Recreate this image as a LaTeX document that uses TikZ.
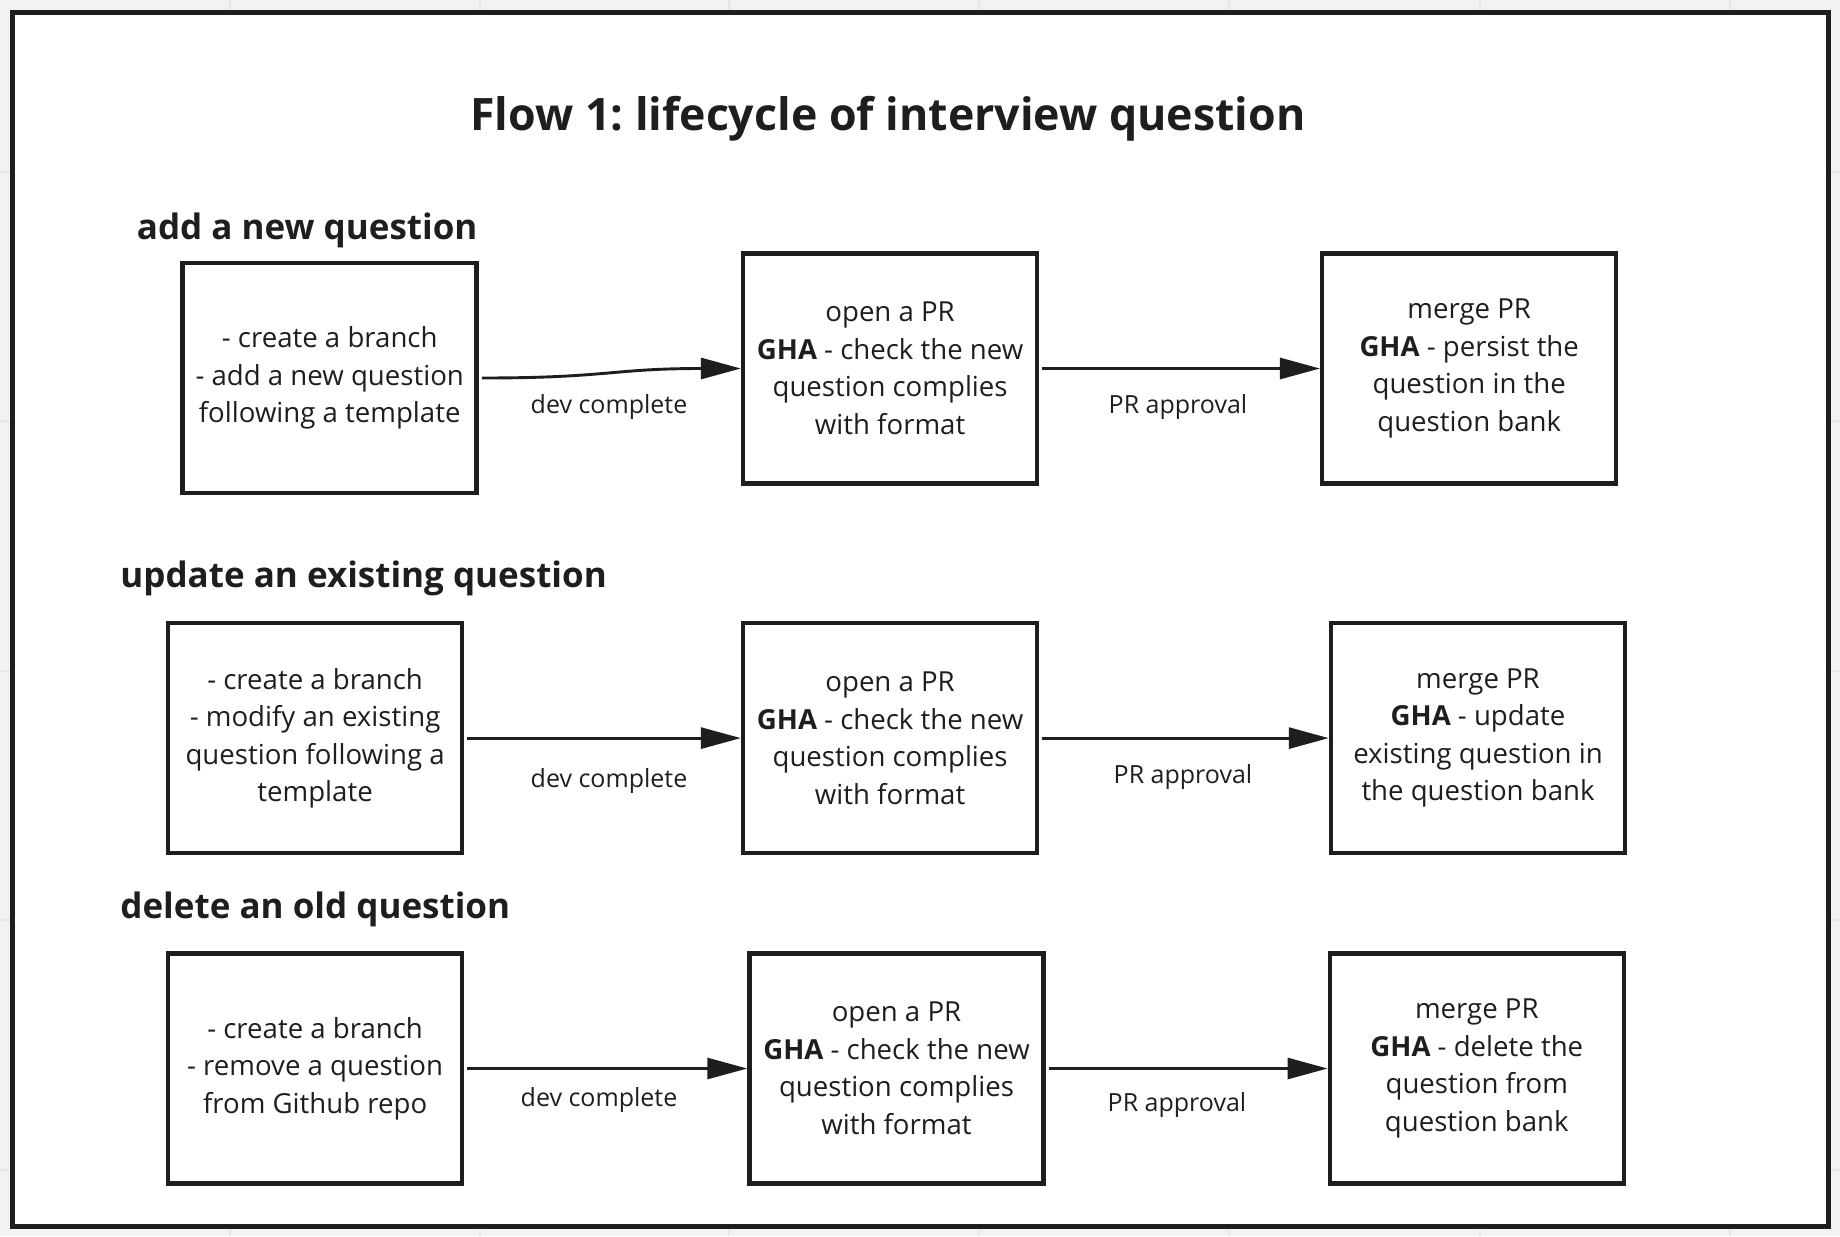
\documentclass[tikz,border=0pt]{standalone}
\usepackage{fontspec}
\setmainfont{Open Sans}
\usetikzlibrary{arrows.meta}
\definecolor{ink}{HTML}{1E1E1E}
\definecolor{canvas}{HTML}{F2F2F2}
\definecolor{gridc}{HTML}{E6E6E6}
\frenchspacing
\begin{document}
\begin{tikzpicture}[x=0.5pt,y=-0.5pt,
  box/.style={draw=ink, line width=2.25pt, minimum width=147pt, minimum height=115pt,
    align=center, text=ink, font=\fontsize{13.8}{18.75}\selectfont, inner sep=0pt},
  lbl/.style={text=ink, font=\fontsize{12.5}{15}\selectfont, anchor=base, inner sep=0pt},
  head/.style={text=ink, font=\bfseries\fontsize{17.5}{20}\selectfont, anchor=base west, inner sep=0pt},
  flow/.style={draw=ink, line width=1.45pt, -{Triangle[length=20pt,width=10.5pt]}},
]
\useasboundingbox (0,0) rectangle (1840,1236);
\fill[canvas] (0,0) rectangle (1840,1236);
\foreach \gx in {230,480,729,979,1229,1480,1730} \draw[gridc, line width=0.75pt] (\gx,0) -- (\gx,1236);
\foreach \gy in {172,421,671,920,1170} \draw[gridc, line width=0.75pt] (0,\gy) -- (1840,\gy);
\draw[ink, line width=2.5pt, fill=white] (12.3,12.3) rectangle (1828.5,1226.5);

\node[anchor=base, font=\bfseries\fontsize{22.35}{26}\selectfont, text=ink, inner sep=0pt] (title) at (888,131) {Flow 1: lifecycle of interview question};

\node[head] (h1) at (136.5,239) {add a new question};
\node[head] (h2) at (120,587.6) {update an existing question};
\node[head] (h3) at (120,918.5) {delete an old question};

\node[box] (a1) at (329.7,378) {- create a branch\\- add a new question\\following a template};
\node[box] (b1) at (890.1,368.5) {open a PR\\\textbf{GHA} - check the new\\question complies\\with format};
\node[box] (c1) at (1469.2,368.5) {merge PR\\\textbf{GHA} - persist the\\question in the\\question bank};

\node[box] (a2) at (315.1,738.1) {- create a branch\\- modify an existing\\question following a\\template};
\node[box] (b2) at (890.1,738.1) {open a PR\\\textbf{GHA} - check the new\\question complies\\with format};
\node[box] (c2) at (1478,738.1) {merge PR\\\textbf{GHA} - update\\existing question in\\the question bank};

\node[box] (a3) at (315.1,1068.5) {- create a branch\\- remove a question\\from Github repo};
\node[box] (b3) at (896.5,1068.5) {open a PR\\\textbf{GHA} - check the new\\question complies\\with format};
\node[box] (c3) at (1476.8,1068.5) {merge PR\\\textbf{GHA} - delete the\\question from\\question bank};

\draw[flow, shorten <=1.5pt] (a1.east) .. controls +(130,0) and +(-130,0) .. (b1.west);
\draw[flow, shorten <=1.5pt] (b1.east) -- (c1.west);
\draw[flow, shorten <=1.5pt] (a2.east) -- (b2.west);
\draw[flow, shorten <=1.5pt] (b2.east) -- (c2.west);
\draw[flow, shorten <=1.5pt] (a3.east) -- (b3.west);
\draw[flow, shorten <=1.5pt] (b3.east) -- (c3.west);

\node[lbl] (l1) at (609,413) {dev complete};
\node[lbl] (l2) at (1178,413) {PR approval};
\node[lbl] (l3) at (609,787) {dev complete};
\node[lbl] (l4) at (1183,783) {PR approval};
\node[lbl] (l5) at (599,1106) {dev complete};
\node[lbl] (l6) at (1177,1111) {PR approval};
\end{tikzpicture}
\end{document}
